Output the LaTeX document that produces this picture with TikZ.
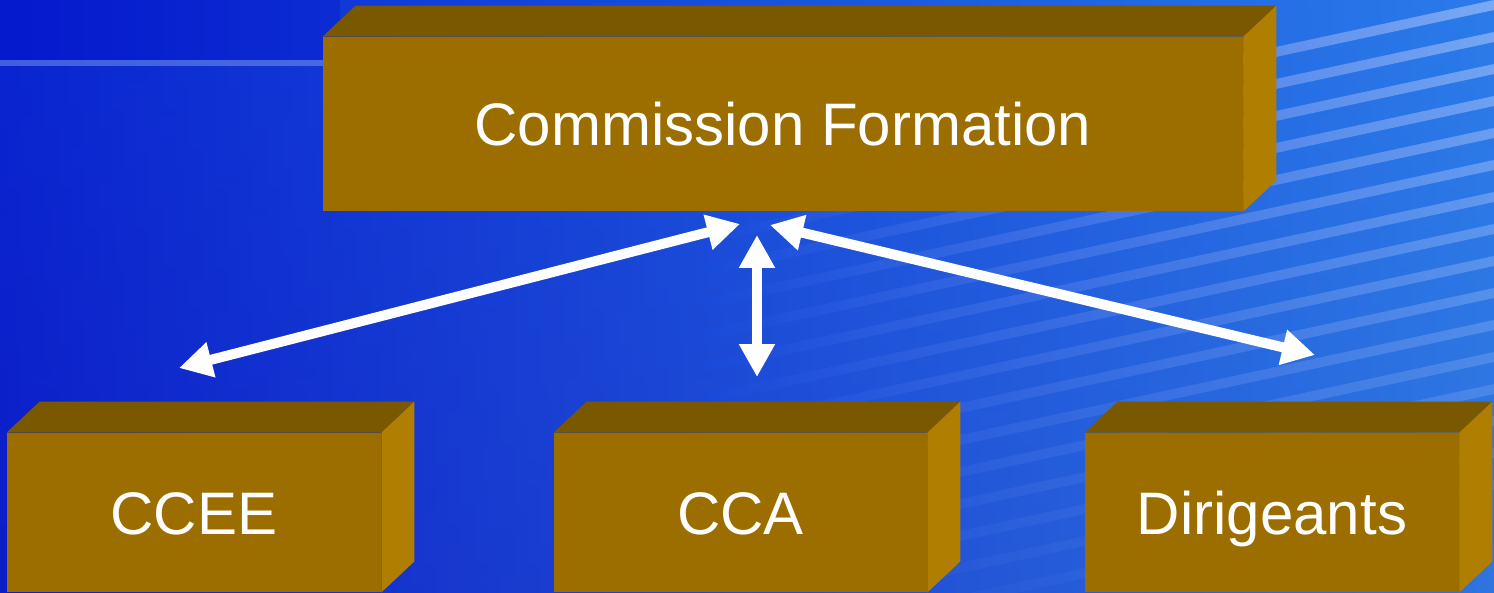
\documentclass[tikz,border=0pt]{standalone}
\usepackage{fontspec}
\setmainfont{Liberation Sans}
\usetikzlibrary{arrows.meta}

\definecolor{bgdeep}{RGB}{5,25,205}
\definecolor{bgmid}{RGB}{22,75,222}
\definecolor{bglow}{RGB}{40,45,180}
\definecolor{bglight}{RGB}{50,140,238}
\definecolor{streak}{RGB}{175,200,252}
\definecolor{brickfront}{RGB}{156,110,0}
\definecolor{bricktop}{RGB}{122,88,0}
\definecolor{brickside}{RGB}{176,126,0}

\tikzset{
  brick/.style={rectangle,fill=brickfront,text=white,inner sep=0pt,
                text height=21.5pt,text depth=0pt,
                font=\fontsize{30pt}{36pt}\selectfont},
  topface/.style={fill=bricktop},
  sideface/.style={fill=brickside},
  link/.style={line width=5pt,white,
               {Triangle[width=17pt,length=16.5pt]}-{Triangle[width=17pt,length=16.5pt]}},
}

\begin{document}
\begin{tikzpicture}[x=0.5pt,y=-0.5pt]
\useasboundingbox (0,0) rectangle (1494,593);
% background
\shade[top color=bgmid,bottom color=bglow] (0,0) rectangle (1494,593);
\fill[bgdeep] (0,0) rectangle (340,60);
\shade[left color=bgdeep,middle color=bgmid,right color=bglight,fill opacity=0.75] (0,0) rectangle (1494,593);
\fill[streak,fill opacity=0.35] (0,60) rectangle (340,66);
\foreach \y in {0,32,...,480} {
    \pgfmathsetmacro\op{0.6-\y/1000}
    \shade[left color=bgmid,right color=streak,fill opacity=\op]
        (700,{\y+171}) -- (1494,\y) -- (1494,{\y+10}) -- (700,{\y+181}) -- cycle;
}

% boxes (front faces)
\node[brick,minimum width=460pt,minimum height=87pt] (CF) at (783,124) {Commission Formation};
\node[brick,minimum width=187pt,minimum height=79.5pt] (CCEE) at (194,512.5) {CCEE};
\node[brick,minimum width=186.5pt,minimum height=79.5pt] (CCA) at (740.5,512.5) {CCA};
\node[brick,minimum width=187pt,minimum height=79.5pt] (DIR) at (1272,512.5) {Dirigeants};

% top and side faces
\foreach \n in {CF,CCEE,CCA,DIR} {
    \fill[topface] (\n.north west) -- ++(33,-31) -- ([shift={(33,-31)}]\n.north east)
        -- (\n.north east) -- cycle;
    \fill[sideface] (\n.north east) -- ++(33,-31) -- ([shift={(33,-31)}]\n.south east)
        -- (\n.south east) -- cycle;
}

% arrow ends
\coordinate (cfL) at (740,224);
\coordinate (cfM) at (757,235);
\coordinate (cfR) at (770,225);
\coordinate (cceeT) at (179,368);
\coordinate (ccaT) at (757,377);
\coordinate (dirT) at (1315,355);

\draw[link] (cfL) -- (cceeT);
\draw[link] (cfM) -- (ccaT);
\draw[link] (cfR) -- (dirT);
\end{tikzpicture}
\end{document}
